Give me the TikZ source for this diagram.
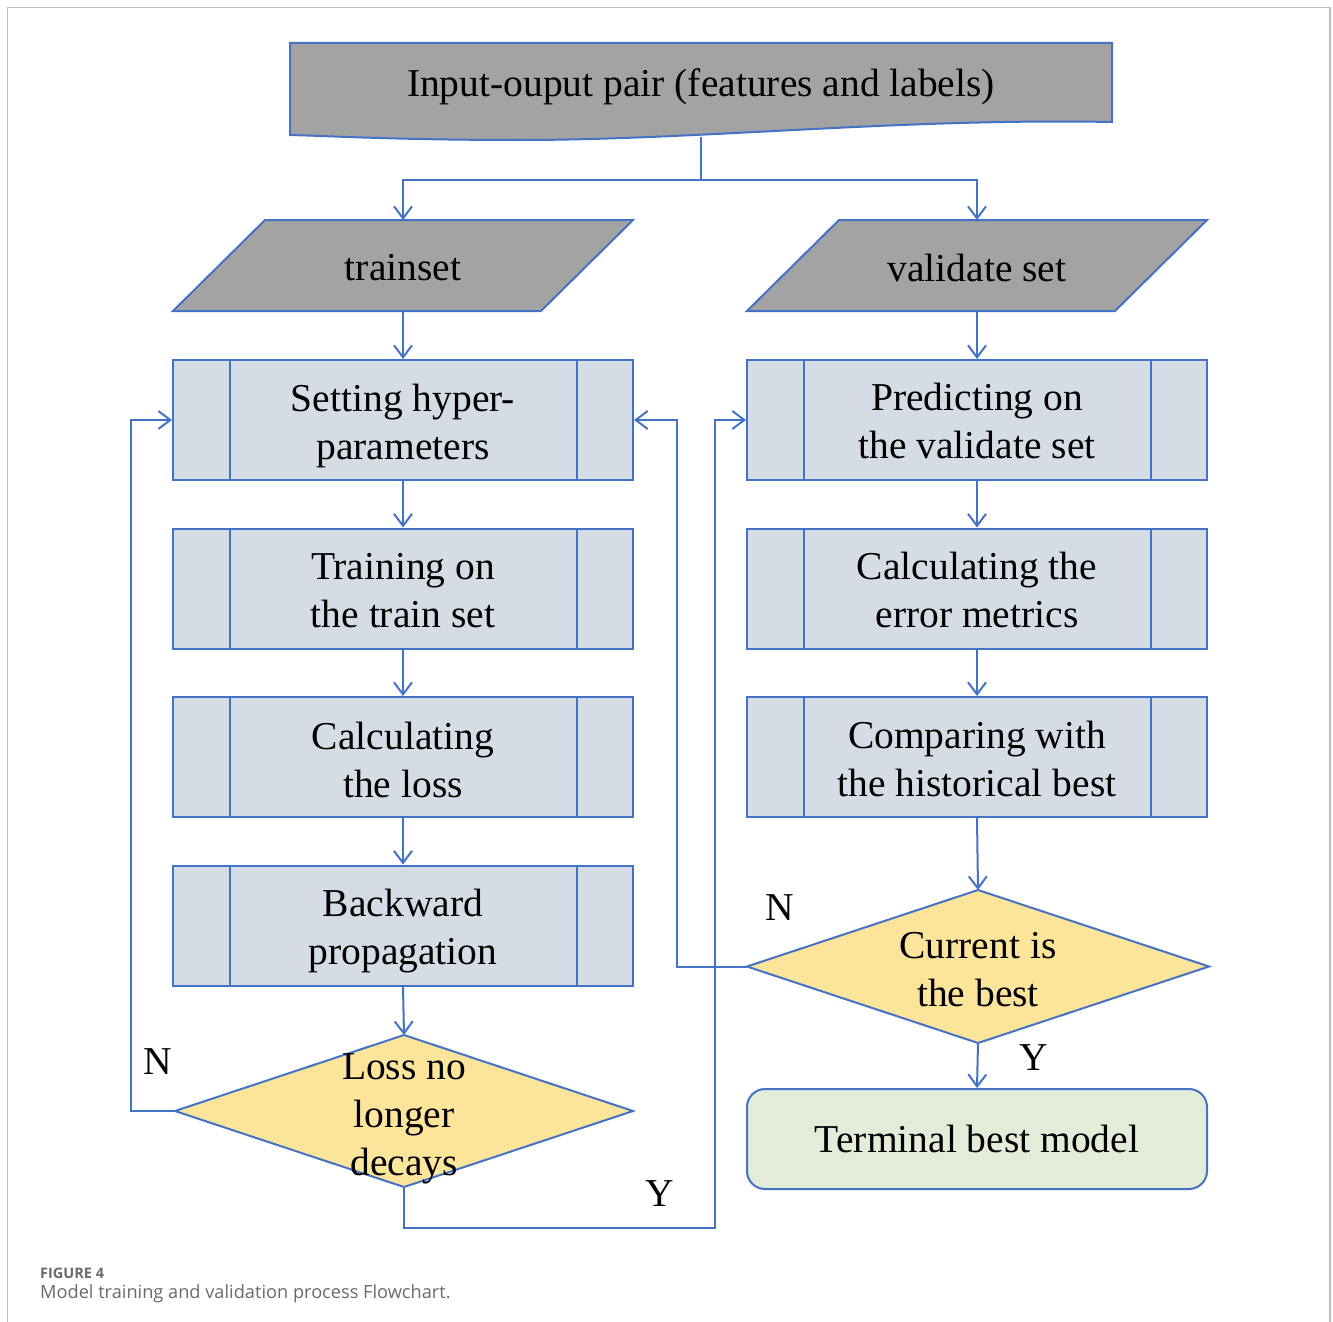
\documentclass[tikz,border=0pt]{standalone}
\usepackage{fontspec}
\setmainfont{Liberation Serif}
\newfontfamily\capfont{Open Sans}
\usetikzlibrary{arrows.meta}
\definecolor{lineblue}{HTML}{4472C4}
\definecolor{datafill}{HTML}{A3A3A3}
\definecolor{boxfill}{HTML}{D6DCE5}
\definecolor{diafill}{HTML}{FDE49B}
\definecolor{termfill}{HTML}{E3EBD9}
\definecolor{capgray}{HTML}{6A6A6A}
\definecolor{framegray}{HTML}{BDBDBD}
\begin{document}
\begin{tikzpicture}[x=1pt,y=-1pt,
  flow/.style={draw=lineblue, line width=2pt},
  conn/.style={flow, -{Straight Barb[length=12pt,width=18pt,line width=2pt]}},
  txt/.style={font=\fontsize{39.5}{48}\selectfont, align=center, inner sep=0pt},
  procbox/.style={flow, fill=boxfill, minimum width=460pt, minimum height=120pt, inner sep=0pt},
  anchorbox/.style={minimum width=#1, inner sep=0pt, outer sep=0pt},
  yn/.style={font=\fontsize{39.5}{48}\selectfont, inner sep=0pt}
]
\useasboundingbox (0,0) rectangle (1333,1322);

% outer frame (open at the bottom)
\draw[framegray, line width=1.5pt] (7.5,1322) -- (7.5,7.5) -- (1330,7.5) -- (1330,1322);

% source data (document shape)
\draw[flow, fill=datafill] (290,43) -- (1112,43) -- (1112,122)
  .. controls (900,118) and (700,140) .. (520,140)
  .. controls (400,140) and (330,136) .. (290,135) -- cycle;
\node[txt] (src) at (701,87) {Input-ouput pair (features and labels)};
\coordinate (srcBot) at (701,137);

% data sets (parallelograms)
\node[anchorbox=460pt, minimum height=91pt] (train) at (403,265.5) {};
\draw[flow, fill=datafill] (265,220) -- (633,220) -- (541,311) -- (173,311) -- cycle;
\node[txt] (trainTxt) at (403,268) {trainset};

\node[anchorbox=460pt, minimum height=91pt] (valid) at (977,265.5) {};
\draw[flow, fill=datafill] (839,220) -- (1207,220) -- (1115,311) -- (747,311) -- cycle;
\node[txt] (validTxt) at (977,268) {validate set};

% predefined-process boxes
\node[procbox] (b1) at (403,420) {};
\node[procbox] (b2) at (403,588.5) {};
\node[procbox] (b3) at (403,757) {};
\node[procbox] (b4) at (403,925.5) {};
\node[procbox] (p1) at (977,420) {};
\node[procbox] (p2) at (977,588.5) {};
\node[procbox] (p3) at (977,757) {};
\foreach \b in {b1,b2,b3,b4,p1,p2,p3}{
  \draw[flow] ([xshift=58pt]\b.north west) -- ([xshift=58pt]\b.south west);
  \draw[flow] ([xshift=-57pt]\b.north east) -- ([xshift=-57pt]\b.south east);
}
\node[txt] (b1Txt) at ([yshift=-6pt]b1.center) {Setting hyper-\\parameters};
\node[txt] (b2Txt) at ([yshift=-2pt]b2.center) {Training on\\the train set};
\node[txt] (b3Txt) at ([yshift=-3pt]b3.center) {Calculating\\the loss};
\node[txt] (b4Txt) at ([yshift=-6pt]b4.center) {Backward\\propagation};
\node[txt] (p1Txt) at ([yshift=-1pt]p1.center) {Predicting on\\the validate set};
\node[txt] (p2Txt) at ([yshift=-1pt]p2.center) {Calculating the\\error metrics};
\node[txt] (p3Txt) at ([yshift=-2pt]p3.center) {Comparing with\\the historical best};

% decisions
\node[anchorbox=458pt, minimum height=152pt] (loss) at (404,1111) {};
\draw[flow, fill=diafill] (loss.north) -- (loss.east) -- (loss.south) -- (loss.west) -- cycle;
\node[txt] (lossTxt) at (404,1119) {Loss no\\longer\\decays};

\node[anchorbox=462pt, minimum height=153pt] (best) at (978,966.5) {};
\draw[flow, fill=diafill] (best.north) -- (best.east) -- (best.south) -- (best.west) -- cycle;
\node[txt] (bestTxt) at (978,970) {Current is\\the best};

% terminal
\node[flow, fill=termfill, rounded corners=18pt, minimum width=460pt, minimum height=100pt,
  inner sep=0pt, font=\fontsize{39.5}{48}\selectfont] (term) at (977,1139) {Terminal best model};

% connectors
\draw[conn] (srcBot) -- ++(0,43) -| (train.north);
\draw[conn] (srcBot) -- ++(0,43) -| (valid.north);
\draw[conn] (train.south) -- (b1.north);
\draw[conn] (b1.south) -- (b2.north);
\draw[conn] (b2.south) -- (b3.north);
\draw[conn] (b3.south) -- (b4.north);
\draw[conn] (b4.south) -- (loss.north);
\draw[conn] (valid.south) -- (p1.north);
\draw[conn] (p1.south) -- (p2.north);
\draw[conn] (p2.south) -- (p3.north);
\draw[conn] (p3.south) -- (best.north);
\draw[conn] (best.south) -- (term.north);
\draw[conn] (loss.west) -- ++(-44,0) |- (b1.west);
\draw[conn] (loss.south) -- ++(0,41) -- ++(311,0) |- (p1.west);
\draw[conn] (best.west) -- ++(-70,0) |- (b1.east);

% branch labels
\node[yn] (nLoss) at (158,1062) {N};
\node[yn] (yLoss) at (660,1194) {Y};
\node[yn] (nBest) at (780,908) {N};
\node[yn] (yBest) at (1034,1058) {Y};

% caption
\node[anchor=base west, inner sep=0pt, text=capgray, font=\capfont\bfseries\fontsize{14.5}{17}\selectfont] (figno) at (40,1278) {FIGURE 4};
\node[anchor=base west, inner sep=0pt, text=capgray, font=\capfont\fontsize{18.2}{21}\selectfont] (figcap) at (40,1298) {Model training and validation process Flowchart.};
\end{tikzpicture}
\end{document}
